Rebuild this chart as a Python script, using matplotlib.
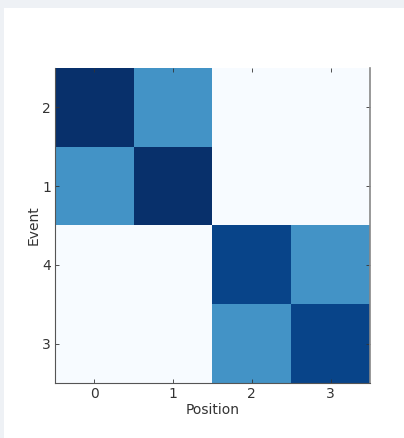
import matplotlib
matplotlib.use("Agg")
import matplotlib.pyplot as plt
import numpy as np
from matplotlib.patches import Rectangle

positions = [0, 1, 2, 3]
events = ["2", "1", "4", "3"]
row_2 = [1.00, 0.62, 0.00, 0.00]
row_1 = [0.62, 1.00, 0.00, 0.00]
row_4 = [0.00, 0.00, 0.92, 0.62]
row_3 = [0.00, 0.00, 0.62, 0.92]

data = np.array([row_2, row_1, row_4, row_3])

fig = plt.figure(figsize=(4.04, 4.38), dpi=100)
fig.patch.set_facecolor("#eef1f5")
fig.patches.append(Rectangle((4/404, 0), 1, 1 - 8/438, transform=fig.transFigure,
                             facecolor="white", edgecolor="none", zorder=-10))

ax = fig.add_axes([55/404, 1 - 383/438, 315/404, 315/438])
ax.set_zorder(5)
ax.imshow(data, cmap="Blues", vmin=0, vmax=1, aspect="auto", interpolation="nearest")
ax.set_xticks(range(len(positions)))
ax.set_xticklabels([str(p) for p in positions])
ax.set_yticks(range(len(events)))
ax.set_yticklabels(events)
ax.tick_params(direction="in", length=3, top=True, right=True, labelsize=10,
               colors="#333333", width=0.6, pad=3)
ax.set_xlabel("Position", fontsize=10, color="#333333", labelpad=1)
ax.set_ylabel("Event", fontsize=10, color="#333333", labelpad=1)
for s in ["left", "bottom"]:
    ax.spines[s].set_color("#555555")
    ax.spines[s].set_linewidth(0.8)
ax.spines["top"].set_visible(False)
ax.spines["right"].set_color("#888888")
ax.spines["right"].set_linewidth(1.2)

fig.savefig("out.png", dpi=100, facecolor=fig.get_facecolor())
